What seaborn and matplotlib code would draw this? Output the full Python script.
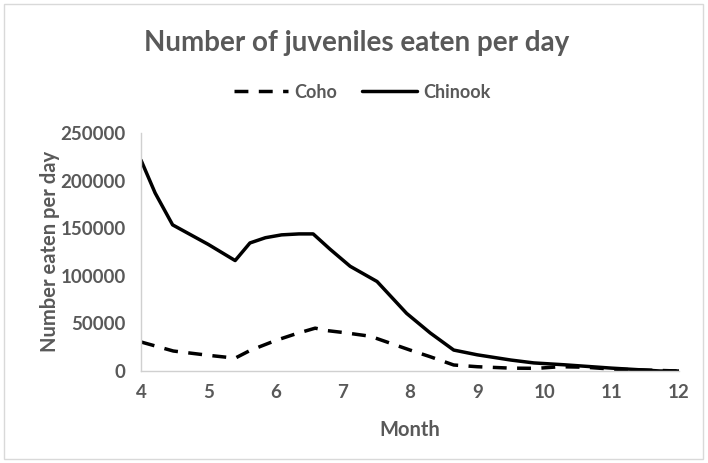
import matplotlib
matplotlib.use("Agg")
import matplotlib.pyplot as plt
import seaborn as sns

# Data (month, number eaten per day)
chinook_month = [4.0, 4.21, 4.47, 5.0, 5.40, 5.62, 5.85, 6.09, 6.35, 6.56, 6.81, 7.11, 7.51, 7.95, 8.30, 8.65, 9.0, 9.5, 9.84, 10.3, 11.0, 11.72, 12.0]
chinook_eaten = [221500, 187000, 153500, 133000, 116000, 134500, 140000, 143000, 144000, 144000, 128000, 110000, 94000, 60500, 40000, 22000, 17000, 11500, 8500, 6500, 3000, 0, 0]

coho_month = [4.0, 4.48, 5.0, 5.40, 5.62, 6.0, 6.3, 6.59, 6.76, 7.0, 7.41, 8.0, 8.30, 8.65, 9.0, 9.5, 9.89, 10.23, 10.6, 11.0, 11.5, 12.0]
coho_eaten = [30500, 21000, 16500, 13500, 21500, 32000, 39000, 45000, 42500, 40500, 36500, 22000, 15000, 6300, 4500, 3000, 2800, 4500, 4000, 2000, 1000, 0]

sns.set_theme(style="white")
plt.rcParams['font.family'] = ['Lato', 'DejaVu Sans']

grey = "#595959"

fig = plt.figure(figsize=(7.08, 4.63), dpi=100)
ax = fig.add_axes([141 / 708, 1 - 371 / 463, (679 - 141) / 708, (371 - 133) / 463])

sns.lineplot(x=coho_month, y=coho_eaten, ax=ax, color="black", linewidth=2.5,
             linestyle=(0, (4, 3)), label="Coho")
sns.lineplot(x=chinook_month, y=chinook_eaten, ax=ax, color="black", linewidth=2.5,
             label="Chinook")

ax.set_xlim(4, 12)
ax.set_ylim(0, 250000)
ax.set_xticks(range(4, 13))
ax.set_yticks(range(0, 250001, 50000))
ax.tick_params(axis="both", length=0, labelsize=13.5, colors=grey)
ax.tick_params(axis="y", pad=11)
ax.tick_params(axis="x", pad=9)
for lab in ax.get_xticklabels() + ax.get_yticklabels():
    lab.set_fontweight("bold")

for side in ["top", "right"]:
    ax.spines[side].set_visible(False)
for side in ["left", "bottom"]:
    ax.spines[side].set_color("#d0d0d0")
    ax.spines[side].set_linewidth(1)

ax.set_xlabel("Month", fontsize=14.5, fontweight="bold", color=grey)
ax.set_ylabel("Number eaten per day", fontsize=14.5, fontweight="bold", color=grey)
ax.xaxis.label.set_va("center")
ax.yaxis.label.set_va("center")
ax.xaxis.set_label_coords(410 / 708, 1 - 430 / 463, transform=fig.transFigure)
ax.yaxis.set_label_coords(50 / 708, 1 - 251 / 463, transform=fig.transFigure)

fig.text(357 / 708, 1 - 43 / 463, "Number of juveniles eaten per day", ha="center", va="center",
         fontsize=20, fontweight="bold", color=grey)

leg = ax.legend(loc="center", bbox_to_anchor=(362 / 708, 1 - 92 / 463), bbox_transform=fig.transFigure,
                ncol=2, frameon=False, fontsize=13, handlelength=3.0, columnspacing=1.4, handletextpad=0.35)
for t in leg.get_texts():
    t.set_color(grey)
    t.set_fontweight("bold")

# outer chart border
fig.patches.append(plt.Rectangle((4 / 708, 4 / 463), 699 / 708, 455 / 463, transform=fig.transFigure,
                                 fill=False, edgecolor="#d9d9d9", linewidth=1))

fig.savefig("out.png", dpi=100)
